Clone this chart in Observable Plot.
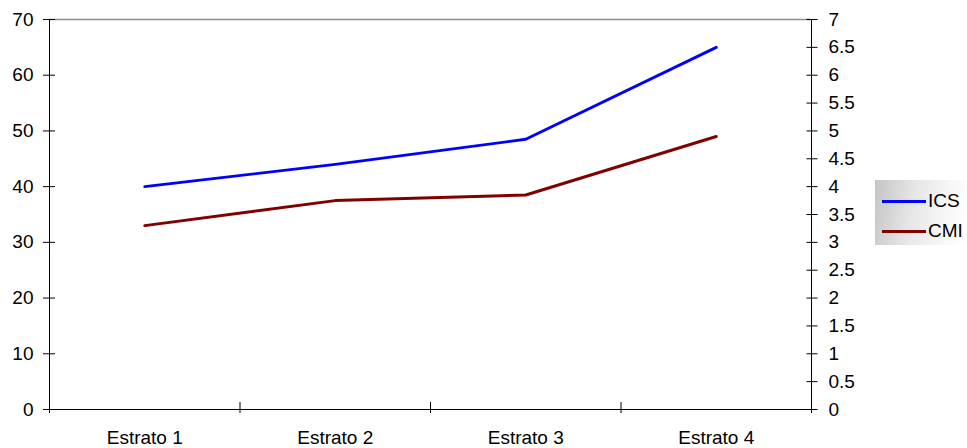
<!DOCTYPE html>
<html>
<head>
<meta charset="utf-8">
<script src="https://cdn.jsdelivr.net/npm/d3@7"></script>
<script src="https://cdn.jsdelivr.net/npm/@observablehq/plot@0.6"></script>
<style>
  body { margin: 0; background: #fff; font-family: "Liberation Sans", Arial, sans-serif; }
  #wrap { position: relative; width: 967px; height: 448px; }
  #legend {
    position: absolute; left: 875px; top: 180px; width: 92px; height: 65px;
    background: linear-gradient(100deg, #c4c4c4 0%, #e6e6e6 40%, #f7f7f7 75%, #ffffff 100%);
    font-size: 19px; color: #000;
  }
  .row { position: absolute; left: 7px; height: 22px; display: flex; align-items: center; }
  .swatch { width: 44px; height: 3px; margin-right: 2px; }
</style>
</head>
<body>
<div id="wrap"></div>
<script>
// Categories and series
const categories = ["Estrato 1", "Estrato 2", "Estrato 3", "Estrato 4"];
const ics = [40, 44, 48.5, 65];          // left axis
const cmi = [3.3, 3.75, 3.85, 4.9];      // right axis
const seriesNames = ["ICS", "CMI"];
const seriesColors = ["#0000ff", "#800000"];

// Tick labels
const leftTicks = [0, 10, 20, 30, 40, 50, 60, 70];
const rightTicks = [0, 0.5, 1, 1.5, 2, 2.5, 3, 3.5, 4, 4.5, 5, 5.5, 6, 6.5, 7];

// The right axis (0–7) shares the plot height with the left one (0–70)
const RIGHT_RATIO = 10;

const rows = categories.map((c, i) => ({ i, c, ics: ics[i], cmi: cmi[i] }));
const boundaries = d3.range(categories.length + 1);
const mid = d => d.i + 0.5;

const chart = Plot.plot({
  width: 967,
  height: 448,
  marginLeft: 49,
  marginRight: 156,
  marginTop: 19,
  marginBottom: 39,
  style: { fontFamily: '"Liberation Sans", Arial, sans-serif', fontSize: "19px", color: "#000", background: "#fff", overflow: "visible" },
  x: { type: "linear", domain: [0, categories.length] },
  y: { domain: [0, 70] },
  marks: [
    Plot.ruleY([70], { stroke: "#8c8c8c", strokeWidth: 1.5 }),
    Plot.ruleX([0, categories.length], { stroke: "#000" }),
    Plot.ruleY([0], { stroke: "#000" }),
    Plot.axisY(leftTicks, { anchor: "left", tickSize: 12, dx: 6, tickPadding: 10, label: null, tickFormat: d => String(d) }),
    Plot.axisY(rightTicks.map(v => v * RIGHT_RATIO), {
      anchor: "right", tickSize: 11, dx: -5.5, tickPadding: 11.5, label: null,
      tickFormat: d => String(+(d / RIGHT_RATIO).toFixed(1))
    }),
    Plot.axisX(boundaries, { anchor: "bottom", tickSize: 11, dy: -7, tickFormat: () => "", label: null }),
    Plot.axisX(rows.map(mid), {
      anchor: "bottom", tickSize: 0, tickPadding: 21, label: null,
      tickFormat: d => categories[Math.floor(d)]
    }),
    Plot.line(rows, { x: mid, y: "ics", stroke: seriesColors[0], strokeWidth: 2.9 }),
    Plot.line(rows, { x: mid, y: d => d.cmi * RIGHT_RATIO, stroke: seriesColors[1], strokeWidth: 2.9 })
  ]
});

const wrap = document.getElementById("wrap");
wrap.appendChild(chart);

// Legend box
const legend = document.createElement("div");
legend.id = "legend";
seriesNames.forEach((name, k) => {
  const row = document.createElement("div");
  row.className = "row";
  row.style.top = (k === 0 ? 10 : 40) + "px";
  const sw = document.createElement("span");
  sw.className = "swatch";
  sw.style.background = seriesColors[k];
  const label = document.createElement("span");
  label.textContent = name;
  row.appendChild(sw);
  row.appendChild(label);
  legend.appendChild(row);
});
wrap.appendChild(legend);
</script>
</body>
</html>
